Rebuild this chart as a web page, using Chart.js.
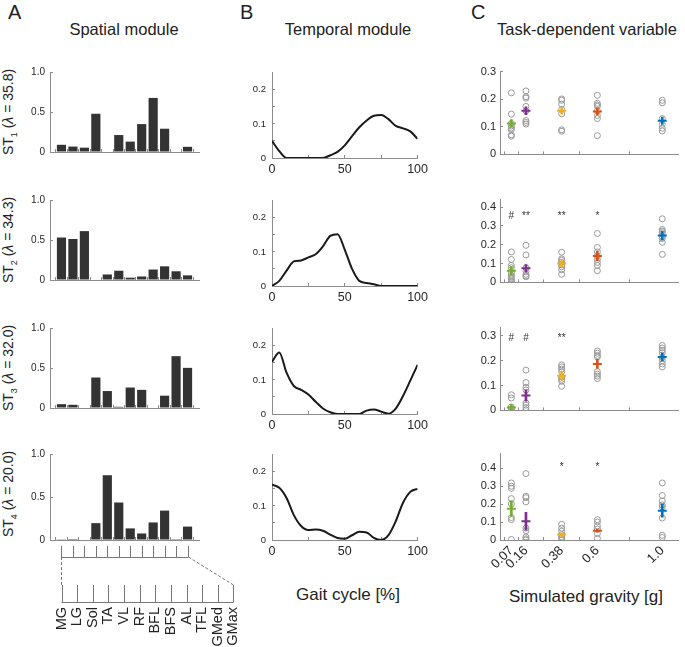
<!DOCTYPE html>
<html lang="en">
<head>
<meta charset="UTF-8">
<title>Spatial, temporal and task-dependent modules</title>
<script src="https://cdn.jsdelivr.net/npm/chart.js"></script>
<style>
  body { margin: 0; background: #fff; font-family: 'Liberation Sans', Arial, sans-serif; color: #222; }
  #fig { position: relative; width: 685px; height: 647px; overflow: hidden; }
  canvas { position: absolute; }
  .txt { position: absolute; white-space: nowrap; line-height: 1; }
  .letter { font-size: 20px; }
  .head { font-size: 16.5px; transform: translateX(-50%); }
  .ylab { font-size: 14px; transform: translate(-50%, -50%) rotate(-90deg); }
  .ylab sub { font-size: 9px; }
</style>
</head>
<body>
<div id="fig">
  <div class="txt letter" style="left:8px; top:2px;">A</div>
  <div class="txt letter" style="left:240px; top:2px;">B</div>
  <div class="txt letter" style="left:471px; top:2px;">C</div>
  <div class="txt head" style="left:124px; top:21px;">Spatial module</div>
  <div class="txt head" style="left:348px; top:21px;">Temporal module</div>
  <div class="txt head" style="left:587px; top:21px;">Task-dependent variable</div>
  <div class="txt head" style="left:348px; top:586px; font-size:17px;">Gait cycle [%]</div>
  <div class="txt head" style="left:586px; top:588px; font-size:17px;">Simulated gravity [g]</div>
</div>

<script>
    // ---- data ----
    const muscles = ['MG', 'LG', 'Sol', 'TA', 'VL', 'RF', 'BFL', 'BFS', 'AL', 'TFL', 'GMed', 'GMax'];
    const lambdas = ['35.8', '34.3', '32.0', '20.0'];

    const spatialST1 = [0.09, 0.068, 0.054, 0.478, 0, 0.212, 0.13, 0.349, 0.676, 0.291, 0, 0.065];
    const spatialST2 = [0.531, 0.513, 0.611, 0, 0.069, 0.116, 0.029, 0.044, 0.131, 0.171, 0.109, 0.058];
    const spatialST3 = [0.048, 0.04, 0, 0.381, 0.212, 0.015, 0.256, 0.227, 0, 0.154, 0.648, 0.502];
    const spatialST4 = [0.003, 0.011, 0, 0.196, 0.753, 0.436, 0.135, 0.076, 0.204, 0.342, 0.01, 0.156];
    const spatialTicks = [0, 0.5, 1];
    const spatialLabels = ['0', '0.5', '1.0'];

    const gaitPct = [0, 5, 10, 15, 20, 25, 30, 35, 40, 45, 50, 55, 60, 65, 70, 75, 80, 85, 90, 95, 100];
    const temporalST1 = [0.05, 0.02, 0, 0, 0, 0, 0, 0, 0.008, 0.018, 0.037, 0.064, 0.09, 0.11, 0.124, 0.126, 0.114, 0.094, 0.087, 0.078, 0.056];
    const temporalST2 = [0, 0.015, 0.045, 0.072, 0.075, 0.084, 0.093, 0.116, 0.147, 0.152, 0.106, 0.05, 0.015, 0.009, 0.005, 0, 0, 0, 0, 0, 0];
    const temporalST3 = [0.153, 0.18, 0.121, 0.082, 0.071, 0.057, 0.036, 0.016, 0.005, 0, 0, 0, 0, 0.01, 0.013, 0.007, 0.001, 0.016, 0.053, 0.098, 0.144];
    const temporalST4 = [0.162, 0.153, 0.123, 0.073, 0.041, 0.029, 0.031, 0.027, 0.016, 0.006, 0.004, 0.014, 0.024, 0.022, 0.006, 0, 0.014, 0.055, 0.109, 0.141, 0.15];
    const gaitTicks = [0, 25, 50, 75, 100];
    const gaitLabels = ['0', '', '50', '', '100'];
    const temporalTicks = [0, 0.05, 0.1, 0.15, 0.2];
    const temporalLabels = ['0', '', '0.1', '', '0.2'];

    const gravity = [0.07, 0.16, 0.38, 0.6, 1.0];
    const gravityLabels = ['0.07', '0.16', '0.38', '0.6', '1.0'];
    const gravityColors = ['#77AC30', '#7E2F8E', '#EDB120', '#D95319', '#0072BD'];

    const taskST1 = [
        [0.223, 0.146, 0.112, 0.103, 0.096, 0.09, 0.071, 0.066],
        [0.23, 0.209, 0.204, 0.174, 0.158, 0.123, 0.116, 0.11],
        [0.201, 0.196, 0.182, 0.163, 0.147, 0.089, 0.084],
        [0.214, 0.185, 0.179, 0.174, 0.158, 0.141, 0.13, 0.068],
        [0.196, 0.187, 0.13, 0.109, 0.095, 0.085]
    ];
    const meanST1 = [0.112, 0.158, 0.158, 0.155, 0.122];
    const semST1 = [0.014, 0.014, 0.012, 0.013, 0.013];
    const sigST1 = ['', '', '', '', ''];

    const taskST2 = [
        [0.162, 0.122, 0.09, 0.078, 0.051, 0.038, 0.027, 0.019, 0.008, 0.0],
        [0.197, 0.146, 0.078, 0.059, 0.043, 0.035, 0.03],
        [0.16, 0.125, 0.117, 0.106, 0.094, 0.083, 0.067, 0.043],
        [0.26, 0.186, 0.162, 0.141, 0.122, 0.106, 0.09, 0.062],
        [0.338, 0.281, 0.273, 0.265, 0.244, 0.233, 0.213, 0.149]
    ];
    const meanST2 = [0.062, 0.075, 0.1, 0.14, 0.249];
    const semST2 = [0.023, 0.02, 0.016, 0.025, 0.024];
    const sigST2 = ['#', '**', '**', '*', ''];

    const taskST3 = [
        [0.063, 0.05, 0.014, 0.006, 0.0],
        [0.162, 0.112, 0.093, 0.082, 0.03, 0.021, 0.011, 0.002],
        [0.183, 0.175, 0.166, 0.156, 0.134, 0.125, 0.117, 0.097],
        [0.239, 0.23, 0.221, 0.215, 0.156, 0.146, 0.138, 0.128],
        [0.261, 0.251, 0.242, 0.232, 0.212, 0.2, 0.187, 0.175]
    ];
    const meanST3 = [0.012, 0.06, 0.139, 0.187, 0.215];
    const semST3 = [0.012, 0.023, 0.017, 0.018, 0.017];
    const sigST3 = ['#', '#', '**', '', ''];

    const taskST4 = [
        [0.317, 0.299, 0.287, 0.23, 0.2, 0.125, 0.113, 0.003],
        [0.369, 0.243, 0.235, 0.212, 0.066, 0.052, 0.017, 0.007, 0.0],
        [0.087, 0.066, 0.049, 0.03, 0.017, 0.009, 0.0],
        [0.113, 0.1, 0.078, 0.061, 0.035, 0.009],
        [0.317, 0.247, 0.217, 0.195, 0.183, 0.122, 0.026, 0.014]
    ];
    const meanST4 = [0.174, 0.104, 0.03, 0.052, 0.163];
    const semST4 = [0.043, 0.05, 0.01, 0.008, 0.036];
    const sigST4 = ['', '', '*', '*', ''];

    const taskMax = [0.3, 0.44, 0.333, 0.48];
    const taskTicks = [[0, 0.1, 0.2, 0.3], [0, 0.1, 0.2, 0.3, 0.4], [0, 0.1, 0.2, 0.3], [0, 0.1, 0.2, 0.3, 0.4]];
    const sigLevel = [0.35, 0.35, 0.29, 0.405];

    const spatialRows = [spatialST1, spatialST2, spatialST3, spatialST4];
    const temporalRows = [temporalST1, temporalST2, temporalST3, temporalST4];
    const taskRows = [taskST1, taskST2, taskST3, taskST4];
    const meanRows = [meanST1, meanST2, meanST3, meanST4];
    const semRows = [semST1, semST2, semST3, semST4];
    const sigRows = [sigST1, sigST2, sigST3, sigST4];

    // ---- layout ----
    const FONT = "'Liberation Sans', Arial, sans-serif";
    const AXIS = '#8c8c8c';
    const TXT = '#262626';
    const rowTop = [66, 194, 322, 448];
    const plotH = 92;
    const PAD_TOP = 8;
    const fig = document.getElementById('fig');

    Chart.defaults.font.family = FONT;
    Chart.defaults.animation = false;

    function addCanvas(left, top, w, h) {
        const c = document.createElement('canvas');
        c.width = w; c.height = h;
        c.style.left = left + 'px'; c.style.top = top + 'px';
        c.style.width = w + 'px'; c.style.height = h + 'px';
        fig.appendChild(c);
        return c;
    }

    function axis(o) {
        return {
            type: 'linear', min: o.min, max: o.max, offset: false, bounds: 'data',
            afterBuildTicks: s => { s.ticks = o.ticks.map(v => ({ value: v })); },
            afterFit: s => {
                if (o.width !== undefined) s.width = o.width;
                if (o.height !== undefined) s.height = o.height;
            },
            border: { display: true, color: AXIS, width: 1 },
            grid: { display: true, drawOnChartArea: false, drawTicks: true, tickLength: -3, color: AXIS },
            ticks: {
                display: !!o.labels, autoSkip: false, color: TXT, padding: o.pad || 8,
                maxRotation: o.rot || 0, minRotation: o.rot || 0,
                font: { size: o.size || 10, family: FONT },
                callback: (v, i) => o.labels ? o.labels[i] : ''
            }
        };
    }

    function baseOptions(x, y, padRight) {
        return {
            responsive: false, devicePixelRatio: 1, animation: false,
            layout: { padding: { top: PAD_TOP, right: padRight, bottom: 0, left: 0 } },
            plugins: { legend: { display: false }, tooltip: { enabled: false } },
            scales: { x: x, y: y }
        };
    }

    // bracket that maps the bar positions onto the muscle names
    const muscleBracket = {
        id: 'muscleBracket',
        afterDraw(chart, args, opts) {
            if (!opts.labels) return;
            const { ctx, chartArea } = chart;
            const xs = chart.scales.x;
            const n = opts.labels.length;
            const a = Math.round(xs.getPixelForValue(1)) + 0.5;
            const b = Math.round(xs.getPixelForValue(n)) + 0.5;
            const wide = (b - a) * opts.spread;
            const base = chartArea.bottom;
            const y1 = base + 6, y2 = base + 17, y3 = base + 45, y4 = base + 62;
            ctx.save();
            ctx.strokeStyle = '#777';
            ctx.lineWidth = 1;
            ctx.beginPath();
            for (let i = 0; i < n; i++) {
                const x = Math.round(xs.getPixelForValue(i + 1)) + 0.5;
                ctx.moveTo(x, y1); ctx.lineTo(x, y2);
                const xl = Math.round(a + wide * i / (n - 1)) + 0.5;
                ctx.moveTo(xl, y3); ctx.lineTo(xl, y4);
            }
            ctx.moveTo(a, y2 + 0.5); ctx.lineTo(b, y2 + 0.5);
            ctx.moveTo(a, y4 + 0.5); ctx.lineTo(a + wide, y4 + 0.5);
            ctx.stroke();
            ctx.setLineDash([3, 2]);
            ctx.beginPath();
            ctx.moveTo(a, y2); ctx.lineTo(a, y3);
            ctx.moveTo(b, y2); ctx.lineTo(a + wide, y3);
            ctx.stroke();
            ctx.setLineDash([]);
            ctx.fillStyle = '#222';
            ctx.font = '14.5px ' + FONT;
            ctx.textAlign = 'right';
            ctx.textBaseline = 'middle';
            opts.labels.forEach((m, i) => {
                ctx.save();
                ctx.translate(a + wide * i / (n - 1), y4 + 5);
                ctx.rotate(-Math.PI / 2);
                ctx.fillText(m, 0, 0);
                ctx.restore();
            });
            ctx.restore();
        }
    };

    // significance marks above the gravity groups
    const sigMarks = {
        id: 'sigMarks',
        afterDatasetsDraw(chart, args, opts) {
            if (!opts.labels) return;
            const { ctx } = chart;
            const xs = chart.scales.x, ys = chart.scales.y;
            ctx.save();
            ctx.fillStyle = '#333';
            ctx.font = '10px ' + FONT;
            ctx.textAlign = 'center';
            ctx.textBaseline = 'middle';
            opts.labels.forEach((t, i) => {
                if (t) ctx.fillText(t, xs.getPixelForValue(gravity[i]), ys.getPixelForValue(opts.y));
            });
            ctx.restore();
        }
    };

    for (let r = 0; r < 4; r++) {
        const last = r === 3;

        // y label of the spatial column
        const lab = document.createElement('div');
        lab.className = 'txt ylab';
        lab.style.left = '10px';
        lab.style.top = (rowTop[r] + plotH / 2) + 'px';
        lab.innerHTML = 'ST<sub>' + (r + 1) + '</sub> (<i>λ</i> = ' + lambdas[r] + ')';
        fig.appendChild(lab);

        // A: spatial module
        {
            const yW = 30, plotW = 149, padR = last ? 44 : 4, xH = last ? 107 : 8;
            const c = addCanvas(50 - yW, rowTop[r] - PAD_TOP, yW + plotW + padR, PAD_TOP + plotH + xH);
            const opts = baseOptions(
                axis({ min: 0, max: 13, ticks: muscles.map((m, i) => i + 1), height: xH }),
                axis({ min: 0, max: 1, ticks: spatialTicks, labels: spatialLabels, width: yW, size: 10, pad: 8 }),
                padR
            );
            opts.plugins.muscleBracket = last ? { labels: muscles, spread: 1.354 } : {};
            new Chart(c, {
                type: 'bar',
                data: {
                    datasets: [{
                        data: spatialRows[r].map((v, i) => ({ x: i + 1, y: v })),
                        backgroundColor: '#333333',
                        borderWidth: 0,
                        barPercentage: 0.8,
                        categoryPercentage: 1
                    }]
                },
                options: opts,
                plugins: [muscleBracket]
            });
        }

        // B: temporal module
        {
            const yW = 30, plotW = 149, padR = 14, xH = 22;
            const c = addCanvas(272 - yW, rowTop[r] - PAD_TOP, yW + plotW + padR, PAD_TOP + plotH + xH);
            new Chart(c, {
                type: 'scatter',
                data: {
                    datasets: [{
                        data: gaitPct.map((p, i) => ({ x: p, y: temporalRows[r][i] })),
                        showLine: true,
                        borderColor: '#1a1a1a',
                        borderWidth: 2,
                        pointRadius: 0,
                        cubicInterpolationMode: 'monotone'
                    }]
                },
                options: baseOptions(
                    axis({ min: 0, max: 100, ticks: gaitTicks, labels: gaitLabels, height: xH, size: 12.5, pad: 7 }),
                    axis({ min: 0, max: 0.25, ticks: temporalTicks, labels: temporalLabels, width: yW, size: 9.5, pad: 9 }),
                    padR
                )
            });
        }

        // C: task-dependent variable
        {
            const yW = 34, plotW = 182, padR = 3, xH = last ? 44 : 10;
            const c = addCanvas(500 - yW, rowTop[r] - PAD_TOP, yW + plotW + padR, PAD_TOP + plotH + xH);
            const pts = [];
            taskRows[r].forEach((grp, g) => grp.forEach(v => pts.push({ x: gravity[g], y: v })));
            const opts = baseOptions(
                axis({ min: 0, max: 1.1, ticks: gravity, labels: last ? gravityLabels : null, height: xH, size: 13, pad: 6, rot: last ? 45 : 0 }),
                axis({ min: 0, max: taskMax[r], ticks: taskTicks[r], labels: taskTicks[r].map(v => v === 0 ? '0' : v.toFixed(1)), width: yW, size: 11, pad: 7 }),
                padR
            );
            opts.plugins.sigMarks = { labels: sigRows[r], y: sigLevel[r] };
            new Chart(c, {
                type: 'scatter',
                data: {
                    datasets: [
                        {
                            type: 'scatter', order: 2,
                            data: pts,
                            pointStyle: 'circle', pointRadius: 3, pointBorderWidth: 1,
                            pointBorderColor: '#9a9a9a', pointBackgroundColor: 'rgba(255,255,255,0)'
                        },
                        {
                            type: 'bar', order: 1, grouped: false,
                            data: gravity.map((g, i) => ({ x: g, y: [meanRows[r][i] - semRows[r][i], meanRows[r][i] + semRows[r][i]] })),
                            backgroundColor: gravityColors, borderWidth: 0, barThickness: 2
                        },
                        {
                            type: 'scatter', order: 0,
                            data: gravity.map((g, i) => ({ x: g, y: meanRows[r][i] })),
                            pointStyle: 'line', pointRadius: 4.5, pointBorderWidth: 2,
                            pointBorderColor: gravityColors
                        }
                    ]
                },
                options: opts,
                plugins: [sigMarks]
            });
        }
    }
</script>
</body>
</html>
